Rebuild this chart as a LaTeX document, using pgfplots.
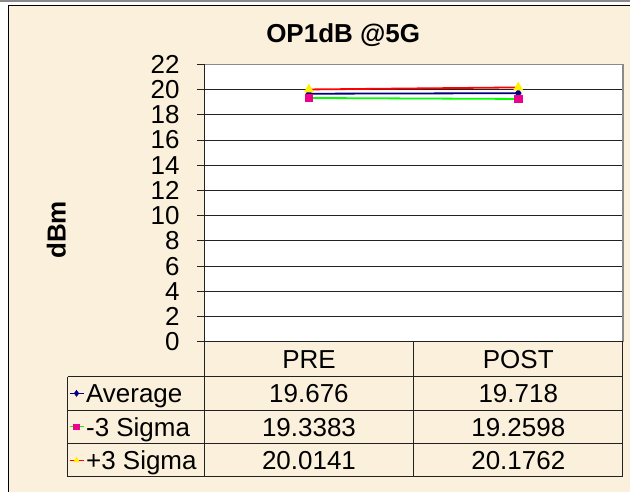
\documentclass[border=0pt]{standalone}
\usepackage{pgfplots}
\pgfplotsset{compat=1.18}
\usepackage{pgfplotstable}
\usepackage{fontspec}
\setmainfont{Liberation Sans}
\definecolor{bg}{HTML}{FAF0DC}
\definecolor{navyc}{HTML}{000080}
\definecolor{gridc}{HTML}{222222}
\definecolor{framegray}{HTML}{8A8A8A}
\newcommand\fs{\fontsize{26bp}{30bp}\selectfont}

\pgfplotstableread{
x cat avg lo hi
0 PRE 19.676 19.3383 20.0141
1 POST 19.718 19.2598 20.1762
}\datatable
\pgfplotstablegetelem{0}{avg}\of\datatable \let\avgA\pgfplotsretval
\pgfplotstablegetelem{1}{avg}\of\datatable \let\avgB\pgfplotsretval
\pgfplotstablegetelem{0}{lo}\of\datatable \let\loA\pgfplotsretval
\pgfplotstablegetelem{1}{lo}\of\datatable \let\loB\pgfplotsretval
\pgfplotstablegetelem{0}{hi}\of\datatable \let\hiA\pgfplotsretval
\pgfplotstablegetelem{1}{hi}\of\datatable \let\hiB\pgfplotsretval

\begin{document}
\begin{tikzpicture}[x=1bp,y=1bp,font=\fs]
\fill[white] (0,0) rectangle (631,492);
\fill[bg] (8,0) rectangle (631,487);
\fill[framegray] (0,490.3) rectangle (631,492);
\draw[black,line width=1.2bp] (8.6,0) -- (8.6,486.4) -- (631,486.4);

\begin{axis}[
  at={(204.5bp,150bp)}, anchor=south west,
  scale only axis, width=419bp, height=277.5bp,
  xmin=-0.5, xmax=1.5, ymin=0, ymax=22,
  xtick=\empty, ytick={0,2,...,22}, ytick pos=left,
  ymajorgrids, major grid style={gridc, line width=0.9bp},
  tick align=outside, major tick length=7.5bp,
  tick style={gridc, line width=0.9bp},
  y tick label style={font=\fs, anchor=east, inner sep=0pt, xshift=-17bp},
  /pgf/number format/assume math mode=true,
  axis line style={draw=none},
  axis background/.style={fill=white},
  clip=false,
  legend cell align=left,
  legend style={at={(-0.3234,-0.1261)}, anchor=north west, draw=none, fill=none,
    inner sep=0pt, outer sep=0pt, row sep=0pt, column sep=2bp, font=\fs,
    nodes={inner sep=0pt, text height=26bp, text depth=7.5bp}},
  legend image code/.code={\draw[mark repeat=2,mark phase=2,line width=1.2bp,mark size=2.5bp] plot coordinates {(0bp,0bp)(7bp,0bp)(14bp,0bp)};},
]
\addplot[navyc, line width=1.8bp, mark=diamond*, mark size=3bp, mark options={fill=navyc, draw=navyc}] table[x=x,y=avg]{\datatable};
\addlegendentry{Average}
\addplot[green, line width=1.8bp, mark=square*, mark size=3.5bp, mark options={fill=magenta, draw=magenta}] table[x=x,y=lo]{\datatable};
\addlegendentry{-3 Sigma}
\addplot[red, line width=1.8bp, mark=triangle*, mark size=4bp, mark options={fill=yellow, draw=yellow}] table[x=x,y=hi]{\datatable};
\addlegendentry{+3 Sigma}
\end{axis}

% plot-area frame
\draw[framegray, line width=1.2bp] (204.5,427.5) -- (623.5,427.5) -- (623.5,150);
\draw[gridc, line width=1bp] (204.5,427.5) -- (204.5,150) -- (623.5,150);
% data table grid
\draw[gridc, line width=0.9bp] (68,115) -- (623.5,115);
\draw[gridc, line width=0.9bp] (68,81) -- (623.5,81);
\draw[gridc, line width=0.9bp] (68,48) -- (623.5,48);
\draw[gridc, line width=0.9bp] (68,15) -- (623.5,15);
\draw[gridc, line width=0.9bp] (68,115) -- (68,15);
\draw[gridc, line width=0.9bp] (204.5,150) -- (204.5,15);
\draw[gridc, line width=0.9bp] (414,150) -- (414,15);
\draw[gridc, line width=0.9bp] (623.5,150) -- (623.5,15);
% table text
\node at (309.25,132.5) {PRE};
\node at (518.75,132.5) {POST};
\node at (309.25,98) {\avgA};
\node at (518.75,98) {\avgB};
\node at (309.25,64.5) {\loA};
\node at (518.75,64.5) {\loB};
\node at (309.25,31.5) {\hiA};
\node at (518.75,31.5) {\hiB};
% titles
\node[font=\fs\bfseries, anchor=base] at (343.5,449) {OP1dB @5G};
\node[font=\fs\bfseries, rotate=90] at (56.5,262) {dBm};
\end{tikzpicture}
\end{document}
